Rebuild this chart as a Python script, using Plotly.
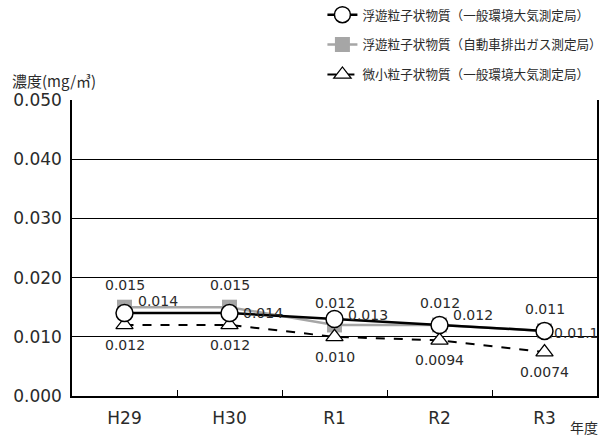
import plotly.graph_objects as go

years = ["H29", "H30", "R1", "R2", "R3"]
spm_general = [0.014, 0.014, 0.013, 0.012, 0.011]
spm_roadside = [0.015, 0.015, 0.012, 0.012, 0.011]
pm25_general = [0.012, 0.012, 0.010, 0.0094, 0.0074]

spm_general_labels = ["0.014", "0.014", "0.013", "0.012", "0.01.1"]
spm_roadside_labels = ["0.015", "0.015", "0.012", "0.012", "0.011"]
pm25_general_labels = ["0.012", "0.012", "0.010", "0.0094", "0.0074"]

names = ["浮遊粒子状物質（一般環境大気測定局）",
         "浮遊粒子状物質（自動車排出ガス測定局）",
         "微小粒子状物質（一般環境大気測定局）"]

NUMFONT = "DejaVu Sans, Noto Sans CJK JP, sans-serif"
CJKFONT = "Noto Sans CJK JP, sans-serif"
TXT = "#2a2a2a"

fig = go.Figure()

fig.add_trace(go.Scatter(
    x=years, y=spm_roadside, name=names[1], mode="lines+markers",
    line=dict(color="#a6a6a6", width=2.5),
    marker=dict(symbol="square", size=15, color="#a6a6a6"),
    legendrank=2, legendgroup="b",
))
fig.add_trace(go.Scatter(
    x=years, y=pm25_general, name=names[2], mode="lines+markers",
    line=dict(color="black", width=2, dash="dash"),
    marker=dict(symbol="triangle-up", size=15, color="white",
                line=dict(color="black", width=1.3)),
    legendrank=3, legendgroup="c",
))
fig.add_trace(go.Scatter(
    x=years, y=spm_general, name=names[0], mode="lines+markers",
    line=dict(color="black", width=2.5),
    marker=dict(symbol="circle", size=17, color="white",
                line=dict(color="black", width=1.5)),
    legendrank=1, legendgroup="a",
))

# value labels (placed from the data arrays; shifts are only styling)
general_yshift = [12, 0, 4, 10, -2]
general_xshift = [11, 11, 11, 11, 7]
annotations = []
for x, y, t, xs, ys in zip(years, spm_general, spm_general_labels,
                           general_xshift, general_yshift):
    annotations.append(dict(x=x, y=y, text=t, showarrow=False, xanchor="left",
                            yanchor="middle", xshift=xs, yshift=ys,
                            font=dict(size=14, family=NUMFONT, color=TXT)))
for x, y, t in zip(years, spm_roadside, spm_roadside_labels):
    annotations.append(dict(x=x, y=y, text=t, showarrow=False, xanchor="center",
                            yanchor="middle", yshift=22,
                            font=dict(size=14, family=NUMFONT, color=TXT)))
for x, y, t in zip(years, pm25_general, pm25_general_labels):
    annotations.append(dict(x=x, y=y, text=t, showarrow=False, xanchor="center",
                            yanchor="middle", yshift=-20,
                            font=dict(size=14, family=NUMFONT, color=TXT)))

annotations += [
    dict(text="濃度(mg/㎥)", xref="paper", yref="paper", x=-0.118, y=1.066,
         xanchor="left", yanchor="middle", showarrow=False,
         font=dict(size=15, family=CJKFONT, color=TXT)),
    dict(text="年度", xref="paper", yref="paper", x=1.006, y=-0.105,
         xanchor="right", yanchor="middle", showarrow=False,
         font=dict(size=14, family=CJKFONT, color=TXT)),
]

fig.update_layout(
    width=605, height=439,
    margin=dict(l=72, r=8, t=100, b=43, autoexpand=False),
    paper_bgcolor="white", plot_bgcolor="white",
    font=dict(family=NUMFONT, color=TXT),
    showlegend=True,
    legend=dict(x=0.477, y=1.0, xanchor="left", yanchor="top",
                yref="container",
                font=dict(size=12.6, family=CJKFONT, color=TXT),
                tracegroupgap=10.5, bgcolor="rgba(0,0,0,0)"),
    xaxis=dict(type="category", showgrid=False, showline=True, linecolor="black",
               linewidth=2, mirror=False, ticks="inside", tickson="boundaries",
               ticklen=6, tickcolor="black", tickwidth=1.2,
               tickfont=dict(size=17, family=NUMFONT, color=TXT),
               ticklabelstandoff=6, range=[-0.5, 4.5]),
    yaxis=dict(range=[0, 0.05], dtick=0.01, tickformat=".3f", showgrid=True,
               gridcolor="black", gridwidth=1, showline=True, linecolor="black",
               linewidth=1.5, mirror=True, ticks="", zeroline=False,
               ticklabelstandoff=5,
               tickfont=dict(size=17, family=NUMFONT, color=TXT)),
    annotations=annotations,
)

fig.write_html("out.html", config={"displayModeBar": False},
               post_script="document.body.style.margin='0';")
